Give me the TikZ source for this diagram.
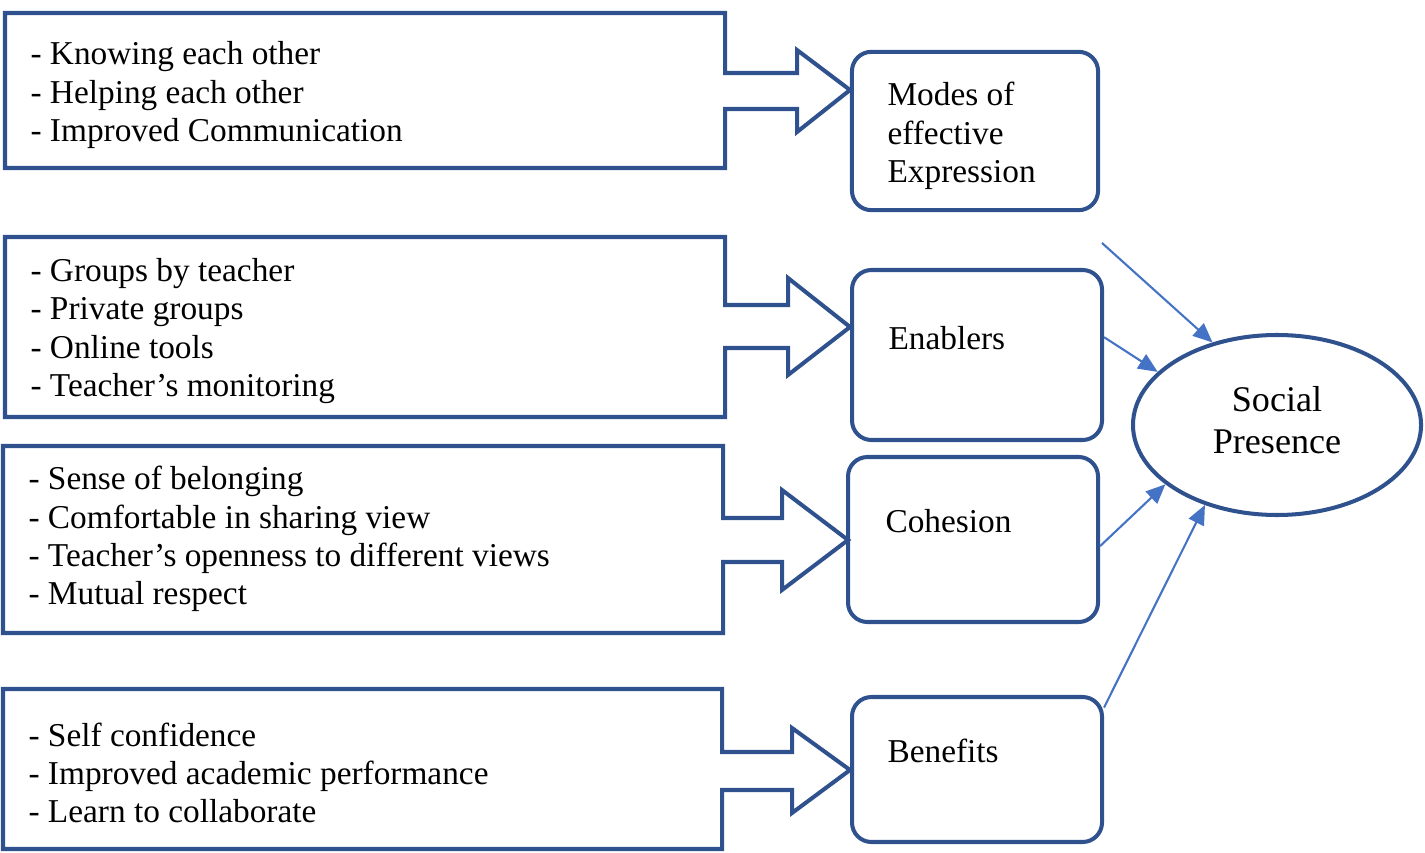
\documentclass[tikz,border=0pt]{standalone}
\usepackage{fontspec}
\setmainfont{Liberation Serif}
\newfontfamily\diagfont{Liberation Serif}
\usetikzlibrary{shapes.geometric, positioning, arrows.meta}
\definecolor{boxblue}{RGB}{47,82,143}
\definecolor{linkblue}{RGB}{68,114,196}

\begin{document}
\begin{tikzpicture}[
    x=0.36pt, y=-0.36pt,
    every node/.style={font=\diagfont\fontsize{12}{13.8}\selectfont},
    % Box styles
    callout/.style={draw=boxblue, line width=1.45pt},
    itemtext/.style={align=left, inner sep=0pt, anchor=west},
    topic/.style={rectangle, rounded corners=7pt, draw=boxblue, line width=1.45pt, minimum width=90pt},
    topictext/.style={align=left, inner sep=0pt, anchor=west},
    presence/.style={ellipse, draw=boxblue, line width=1.45pt, minimum width=103.7pt, minimum height=64.8pt, align=center, font=\diagfont\fontsize{13}{15}\selectfont},
    link/.style={draw=linkblue, line width=0.75pt, -{Triangle[length=7pt, width=6pt]}}
]
\useasboundingbox (0,0) rectangle (1425,853);

% Left callout boxes
\draw[callout] (5,13) -- (725,13) -- (725,73) -- (797,73) -- (797,50) -- (850,90) -- (797,132) -- (797,109) -- (725,109) -- (725,168) -- (5,168) -- cycle;
\draw[callout] (5,237) -- (725,237) -- (725,305) -- (788,305) -- (788,278) -- (850,327) -- (788,375) -- (788,348) -- (725,348) -- (725,417) -- (5,417) -- cycle;
\draw[callout] (3,446) -- (723,446) -- (723,518) -- (782,518) -- (782,490) -- (848,540) -- (782,590) -- (782,562) -- (723,562) -- (723,633) -- (3,633) -- cycle;
\draw[callout] (3,689) -- (722,689) -- (722,752) -- (792,752) -- (792,728) -- (850,770) -- (792,813) -- (792,790) -- (722,790) -- (722,849) -- (3,849) -- cycle;

% Item lists
\node[itemtext] (know) at (30,95) {- Knowing each other\\- Helping each other\\- Improved Communication};
\node[itemtext] (groups) at (30,331) {- Groups by teacher\\- Private groups\\- Online tools\\- Teacher’s monitoring};
\node[itemtext] (belong) at (28,539) {- Sense of belonging\\- Comfortable in sharing view\\- Teacher’s openness to different views\\- Mutual respect};
\node[itemtext] (confid) at (28,773) {- Self confidence\\- Improved academic performance\\- Learn to collaborate};

% Topic boxes
\node[topic, minimum width=88.6pt, minimum height=57pt] (modes) at (975,131) {};
\node[topic, minimum height=61.2pt] (enab) at (977,355) {};
\node[topic, minimum height=59.4pt] (coh) at (973,539.5) {};
\node[topic, minimum height=52.2pt] (ben) at (977,769.5) {};

\node[topictext] (modestxt) at (887,136) {Modes of\\effective\\Expression};
\node[topictext] (enabtxt) at (888,338) {Enablers};
\node[topictext] (cohtxt) at (885,521) {Cohesion};
\node[topictext] (bentxt) at (887,751) {Benefits};

% Social presence
\node[presence] (social) at (1277,425) {};
\node[align=center, inner sep=0pt, font=\diagfont\fontsize{13}{15}\selectfont] (socialtxt) at (1277,420) {Social\\Presence};

% Links
\coordinate (modesout) at (1102,243);
\draw[link] (modesout) -- (social.128);
\draw[link] (enab.8) -- (social.156);
\draw[link] (coh.-3) -- (social.208);
\draw[link] (ben.26) -- (social.228);

\end{tikzpicture}
\end{document}
